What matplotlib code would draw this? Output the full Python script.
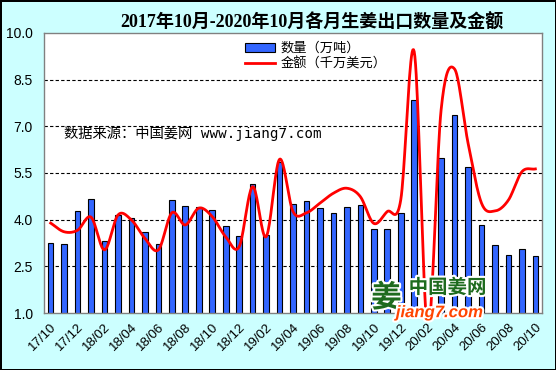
import numpy as np
import matplotlib
matplotlib.use('Agg')
import matplotlib.pyplot as plt
import matplotlib.patheffects as pe
from matplotlib.lines import Line2D
from matplotlib.patches import Patch

months = ['17/10', '17/11', '17/12', '18/01', '18/02', '18/03', '18/04', '18/05', '18/06', '18/07',
          '18/08', '18/09', '18/10', '18/11', '18/12', '19/01', '19/02', '19/03', '19/04', '19/05',
          '19/06', '19/07', '19/08', '19/09', '19/10', '19/11', '19/12', '20/01', '20/02', '20/03',
          '20/04', '20/05', '20/06', '20/07', '20/08', '20/09', '20/10']

# export quantity (10k tons)
quantity = [3.24, 3.21, 4.27, 4.66, 3.31, 4.15, 4.04, 3.59, 3.22, 4.62,
            4.43, 4.41, 4.30, 3.80, 3.48, 5.14, 3.51, 5.85, 4.50, 4.59,
            4.37, 4.21, 4.40, 4.47, 3.70, 3.69, 4.21, 7.84, 1.00, 5.97,
            7.36, 5.69, 3.82, 3.18, 2.86, 3.05, 2.82]

# export amount (10M USD)
amount = [3.89, 3.61, 3.66, 4.08, 3.03, 4.15, 3.99, 3.40, 3.03, 4.22,
          3.83, 4.37, 4.10, 3.45, 3.13, 5.06, 3.45, 5.94, 4.26, 4.22,
          4.53, 4.85, 5.01, 4.74, 3.88, 4.26, 4.63, 9.40, 0.50, 7.53,
          8.84, 6.46, 4.53, 4.28, 4.63, 5.54, 5.63]

yticks = [1.0, 2.5, 4.0, 5.5, 7.0, 8.5, 10.0]

cjk = ['Noto Sans CJK SC', 'DejaVu Sans']


def smooth_curve(y, steps=20):
    # cubic hermite (catmull-rom) through the points, like excel's smoothed line
    y = np.asarray(y, dtype=float)
    n = len(y)
    m = np.zeros(n)
    m[1:-1] = (y[2:] - y[:-2]) / 2
    m[0] = y[1] - y[0]
    m[-1] = y[-1] - y[-2]
    xs, ys = [], []
    for i in range(n - 1):
        t = np.linspace(0, 1, steps, endpoint=False)
        h00 = 2 * t**3 - 3 * t**2 + 1
        h10 = t**3 - 2 * t**2 + t
        h01 = -2 * t**3 + 3 * t**2
        h11 = t**3 - t**2
        xs.extend(i + t)
        ys.extend(h00 * y[i] + h10 * m[i] + h01 * y[i + 1] + h11 * m[i + 1])
    xs.append(n - 1)
    ys.append(y[-1])
    return np.array(xs), np.array(ys)


fig = plt.figure(figsize=(5.56, 3.70), dpi=100, facecolor='#CCFFFF',
                 edgecolor='black', linewidth=2)
ax = fig.add_axes([0.079, 0.154, 0.896, 0.757])
ax.set_facecolor('white')

x = np.arange(len(months))
ax.bar(x, quantity, width=0.42, color='#3366FF', edgecolor='black', linewidth=0.8, zorder=2)
sx, sy = smooth_curve(amount)
ax.plot(sx, sy, color='#FF0000', linewidth=2.0, zorder=3)

ax.set_xlim(-0.5, len(months) - 0.5)
ax.set_ylim(1.0, 10.0)
ax.set_yticks(yticks)
ax.set_yticklabels(['%.1f' % v for v in yticks], family='Liberation Sans', fontsize=10)
ax.tick_params(axis='y', length=0, pad=8)
for v in yticks[1:-1]:
    ax.axhline(v, color='black', linestyle=(0, (3, 2)), linewidth=0.8, zorder=1)

ax.set_xticks(x[::2])
ax.set_xticklabels(months[::2], rotation=45, ha='right', rotation_mode='anchor',
                   family='Liberation Sans', fontsize=9.5)
ax.tick_params(axis='x', length=0, pad=6)

for s in ax.spines.values():
    s.set_color('#808080')
    s.set_linewidth(1)

fig.text(0.561, 0.938, '2017年10月-2020年10月各月生姜出口数量及金额', ha='center', va='center',
         fontsize=13, fontweight='bold', family=['Liberation Serif', 'Noto Sans CJK SC'])

handles = [Patch(facecolor='#3366FF', edgecolor='black', linewidth=0.8),
           Line2D([0], [0], color='#FF0000', linewidth=2.0)]
ax.legend(handles, ['数量（万吨）', '金额（千万美元）'], loc='upper left',
          bbox_to_anchor=(0.38, 1.01), frameon=False, prop={'family': cjk, 'size': 9.5},
          handlelength=2.3, handleheight=0.7, labelspacing=0.15, borderpad=0.4, handletextpad=0.4)

ax.text(0.04, 0.64, '数据来源：中国姜网 www.jiang7.com', transform=ax.transAxes,
        family=['DejaVu Sans Mono', 'Noto Sans CJK SC'], fontsize=10.3, va='center', zorder=4)

# watermark logo
stroke = [pe.withStroke(linewidth=3, foreground='white')]
fig.text(0.695, 0.195, '姜', color='#1E6B1E', fontsize=22, fontweight='bold',
         family=cjk, ha='center', va='center', path_effects=stroke, zorder=5)
fig.text(0.735, 0.222, '中国姜网', color='#1E6B1E', fontsize=14, fontweight='bold',
         family=cjk, ha='left', va='center', path_effects=stroke, zorder=5)
fig.text(0.712, 0.155, 'jiang7.com', color='#FF4500', fontsize=12, fontweight='bold',
         style='italic', family='Liberation Sans', ha='left', va='center',
         path_effects=stroke, zorder=5)

fig.savefig('out.png', dpi=100, facecolor=fig.get_facecolor(), edgecolor=fig.get_edgecolor())
